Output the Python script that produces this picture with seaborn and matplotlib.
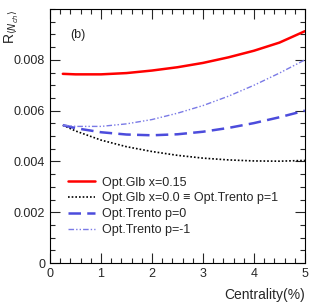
import matplotlib
matplotlib.use("Agg")
import matplotlib.pyplot as plt
from matplotlib.ticker import MultipleLocator
import seaborn as sns
import pandas as pd

centrality = [0.25, 0.5, 1.0, 1.5, 2.0, 2.5, 3.0, 3.5, 4.0, 4.5, 5.0]
glb_x015 = [0.00745, 0.00743, 0.00743, 0.00748, 0.00758, 0.00771, 0.00788, 0.00810, 0.00836, 0.00868, 0.00913]
glb_x000 = [0.00543, 0.00520, 0.00484, 0.00458, 0.00439, 0.00424, 0.00413, 0.00406, 0.00402, 0.00401, 0.00404]
trento_p0 = [0.00543, 0.00531, 0.00515, 0.00506, 0.00503, 0.00507, 0.00517, 0.00532, 0.00551, 0.00574, 0.00600]
trento_pm1 = [0.00543, 0.00538, 0.00538, 0.00548, 0.00565, 0.00590, 0.00620, 0.00657, 0.00700, 0.00748, 0.00800]

labels = ["Opt.Glb x=0.15", "Opt.Glb x=0.0 \u2261 Opt.Trento p=1",
          "Opt.Trento p=0", "Opt.Trento p=-1"]
series = [glb_x015, glb_x000, trento_p0, trento_pm1]

sns.set_style("ticks")
plt.rcParams["font.family"] = ["Liberation Sans", "DejaVu Sans"]
plt.rcParams["font.size"] = 9

styles = [
    dict(color="#ff0000", lw=1.8, ls="-"),
    dict(color="black", lw=1.2, ls=(0, (1, 1.2))),
    dict(color="#4c4cdc", lw=1.8, ls=(0, (5, 2.5))),
    dict(color="#7a7ae6", lw=1.0, ls=(0, (4, 1.5, 1, 1.5, 1, 1.5))),
]

fig = plt.figure(figsize=(3.15, 3.03), dpi=100)
ax = fig.add_axes([0.159, 0.132, 0.809, 0.838])

for lab, vals, st in zip(labels, series, styles):
    df = pd.DataFrame({"c": centrality, "r": vals})
    sns.lineplot(data=df, x="c", y="r", ax=ax, label=lab,
                 color=st["color"], linewidth=st["lw"], linestyle=st["ls"])

ax.set_xlim(0, 5)
ax.set_ylim(0, 0.01)
ax.xaxis.set_major_locator(MultipleLocator(1))
ax.xaxis.set_minor_locator(MultipleLocator(0.2))
ax.yaxis.set_major_locator(MultipleLocator(0.002))
ax.yaxis.set_minor_locator(MultipleLocator(0.0005))
ax.set_yticks([0, 0.002, 0.004, 0.006, 0.008])
ax.set_yticklabels(["0", "0.002", "0.004", "0.006", "0.008"])
ax.tick_params(which="both", direction="in", top=True, right=True, labelsize=9, width=0.8)
ax.tick_params(which="major", length=7)
ax.tick_params(which="minor", length=3.5)
for s in ax.spines.values():
    s.set_linewidth(0.8)
    s.set_color("black")

ax.set_xlabel("Centrality(%)", fontsize=10, loc="right")
ax.set_ylabel(r"R$_{\langle N_{ch}\rangle}$", fontsize=10, loc="top")
ax.xaxis.set_label_coords(1.0, -0.1)
ax.yaxis.set_label_coords(-0.115, 1.0)

ax.text(0.39, 0.00898, "(b)", fontsize=9, ha="left", va="center")

ax.legend(loc="upper left", bbox_to_anchor=(0.07, 0.34), frameon=False,
          handlelength=2.2, handletextpad=0.5, labelspacing=0.3,
          borderpad=0, borderaxespad=0, fontsize=9)

fig.savefig("out.png", dpi=100)
